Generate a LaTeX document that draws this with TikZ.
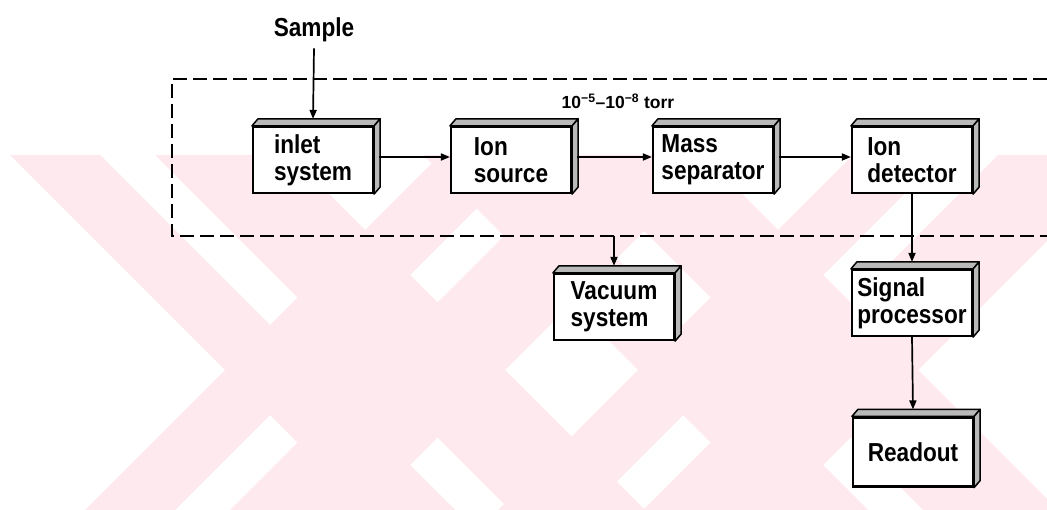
\documentclass[tikz,border=0pt]{standalone}
\usepackage{fontspec}
\setmainfont{Liberation Sans}
\newfontfamily\boxfont{Liberation Sans}[FakeStretch=0.87]
\usetikzlibrary{arrows.meta}
\definecolor{wm}{RGB}{253,233,238}
\tikzset{
  blk/.style={draw=black, line width=2.2pt, fill=white, minimum width=120pt, minimum height=66pt,
    align=left, inner sep=0pt, font=\boxfont\bfseries\fontsize{26}{27}\selectfont},
  lbl/.style={inner sep=0pt, font=\boxfont\bfseries\fontsize{26}{27}\selectfont},
  conn/.style={line width=1.7pt, -{Triangle[length=9pt,width=7pt]}},
  dashbox/.style={line width=2.4pt, dash pattern=on 14pt off 6pt},
  face3d/.style={fill=gray!55, draw=black, line width=1.5pt, line join=round},
}
\newcommand{\boxthreed}[1]{%
  \path[face3d] (#1.north west) -- ++(6pt,7pt) -- ([xshift=6pt,yshift=7pt]#1.north east) -- (#1.north east) -- cycle;
  \path[face3d] (#1.north east) -- ++(6pt,7pt) -- ([xshift=6pt,yshift=7pt]#1.south east) -- (#1.south east) -- cycle;
}
\begin{document}
\begin{tikzpicture}[x=1pt,y=-1pt]
\useasboundingbox (0,0) rectangle (1047,510);
\fill[white] (0,0) rectangle (1047,510);
% watermark
\begin{scope}
  \clip (0,154) rectangle (1047,510);
  \foreach \s in {0,413} {
    \fill[wm] (10+\s,155) -- (100+\s,155) -- (455+\s,510) -- (365+\s,510) -- cycle;
    \fill[wm] (155+\s,155) -- (290+\s,155) -- (645+\s,510) -- (510+\s,510) -- cycle;
    \fill[wm] (85+\s,510) -- (175+\s,510) -- (530+\s,155) -- (440+\s,155) -- cycle;
    \fill[wm] (230+\s,510) -- (365+\s,510) -- (720+\s,155) -- (585+\s,155) -- cycle;
    \fill[wm] (313+\s,370) -- (342.5+\s,340.5) -- (372+\s,370) -- (342.5+\s,399.5) -- cycle;
  }
\end{scope}
% vacuum enclosure
\draw[dashbox] (1047,79) -- (172,79) -- (172,236) -- (1047,236);
\coordinate (vtap) at (614,236);
\node[inner sep=0pt, font=\bfseries\fontsize{17.5}{17.5}\selectfont] (press) at (618,101) {10\textsuperscript{−5}–10\textsuperscript{−8} torr};
% sample
\node[lbl] (sample) at (314,30) {Sample};
% boxes
\node[blk] (inlet) at (313,160) {inlet\\system};
\node[blk] (source) at (511,160) {Ion\\source};
\node[blk] (mass) at (713,160) {Mass\\separator};
\node[blk] (det) at (912,160) {Ion\\detector};
\node[blk] (vac) at (614,307) {Vacuum\\system};
\node[blk] (sig) at (912,303) {Signal\\processor};
\node[blk, minimum height=69pt] (read) at (913,452) {Readout};
\boxthreed{inlet}\boxthreed{source}\boxthreed{mass}\boxthreed{det}
\boxthreed{vac}\boxthreed{sig}\boxthreed{read}
% connectors
\draw[conn] ([yshift=-6pt]sample.south) -- ([yshift=7pt]inlet.north);
\draw[conn] ([xshift=5pt,yshift=3pt]inlet.east) -- ([yshift=3pt]source.west);
\draw[conn] ([xshift=5pt,yshift=3pt]source.east) -- ([yshift=3pt]mass.west);
\draw[conn] ([xshift=5pt,yshift=3pt]mass.east) -- ([yshift=3pt]det.west);
\draw[conn] (vtap) -- ([yshift=7pt]vac.north);
\draw[conn] (det.south) -- ([yshift=7pt]sig.north);
\draw[conn] (sig.south) -- ([yshift=7pt]read.north);
\end{tikzpicture}
\end{document}
